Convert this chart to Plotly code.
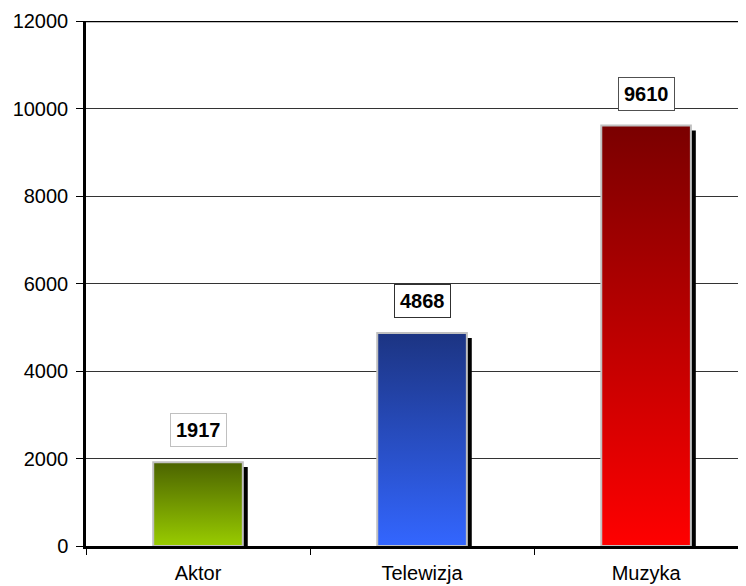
import numpy as np
import plotly.graph_objects as go

# data
categories = ["Aktor", "Telewizja", "Muzyka"]
values = [1917, 4868, 9610]

# gradient colours per bar (top, bottom)
top_colors = ["#4b6300", "#1c3482", "#7a0000"]
bottom_colors = ["#99cc00", "#3366ff", "#ff0000"]

positions = np.arange(len(categories))
bar_w = 0.4
shadow_dx = 0.022   # ~5px to the right
shadow_dy = 114     # ~5px down

fig = go.Figure()

# drop shadow behind each bar
fig.add_trace(go.Bar(
    x=positions, y=[v - shadow_dy for v in values],
    width=bar_w, offset=-bar_w / 2 + shadow_dx,
    marker=dict(color="black", line=dict(width=0)),
    hoverinfo="skip", showlegend=False))

# gradient bars (scatter polygons so a vertical fill gradient can be used)
for p, v, ctop, cbot in zip(positions, values, top_colors, bottom_colors):
    x0, x1 = p - bar_w / 2, p + bar_w / 2
    fig.add_trace(go.Scatter(
        x=[x0, x1, x1, x0, x0], y=[0, 0, v, v, 0],
        mode="lines", fill="toself",
        fillgradient=dict(type="vertical", colorscale=[[0, cbot], [1, ctop]]),
        line=dict(color="#c0c0c0", width=2),
        hoverinfo="skip", showlegend=False))

# value labels in boxes
border_colors = ["#c0c0c0", "#303030", "#505050"]
for p, v, bc in zip(positions, values, border_colors):
    fig.add_annotation(
        x=p, y=v, text=f"<b>{v}</b>", showarrow=False,
        yanchor="middle", yshift=32,
        font=dict(family="Arial, Liberation Sans", size=20, color="black"),
        bgcolor="white", bordercolor=bc, borderwidth=1, borderpad=5)

# thick top border of the plot area
fig.add_shape(type="line", xref="paper", yref="y", x0=0, x1=1, y0=12000, y1=12000,
              line=dict(color="black", width=2.5))

# page body has an 8px margin, so the figure is sized to fit the window
fig.update_layout(
    width=738, height=578,
    margin=dict(l=78, r=0, t=13, b=40, autoexpand=False),
    paper_bgcolor="white", plot_bgcolor="white",
    barmode="overlay",
    font=dict(family="Arial, Liberation Sans", size=20, color="black"),
    xaxis=dict(
        range=[-0.5, 2.446], automargin=False,
        tickmode="array", tickvals=positions, ticktext=categories,
        ticks="outside", ticklen=7, tickcolor="rgba(0,0,0,0)",
        minor=dict(tickmode="array", tickvals=[-0.5, 0.5, 1.5],
                   ticks="outside", ticklen=6, tickcolor="black", tickwidth=1,
                   showgrid=False),
        showgrid=False, zeroline=False,
        showline=True, linecolor="black", linewidth=2.5,
        tickfont=dict(size=20), fixedrange=True),
    yaxis=dict(
        range=[0, 12000], dtick=2000, tickformat="d", automargin=False,
        ticks="outside", ticklen=7, tickcolor="black", tickwidth=1,
        ticklabelstandoff=4,
        showgrid=True, gridcolor="#333333", gridwidth=1,
        zeroline=False,
        showline=True, linecolor="black", linewidth=2.5,
        tickfont=dict(size=20)),
)

fig.write_html("out.html")
